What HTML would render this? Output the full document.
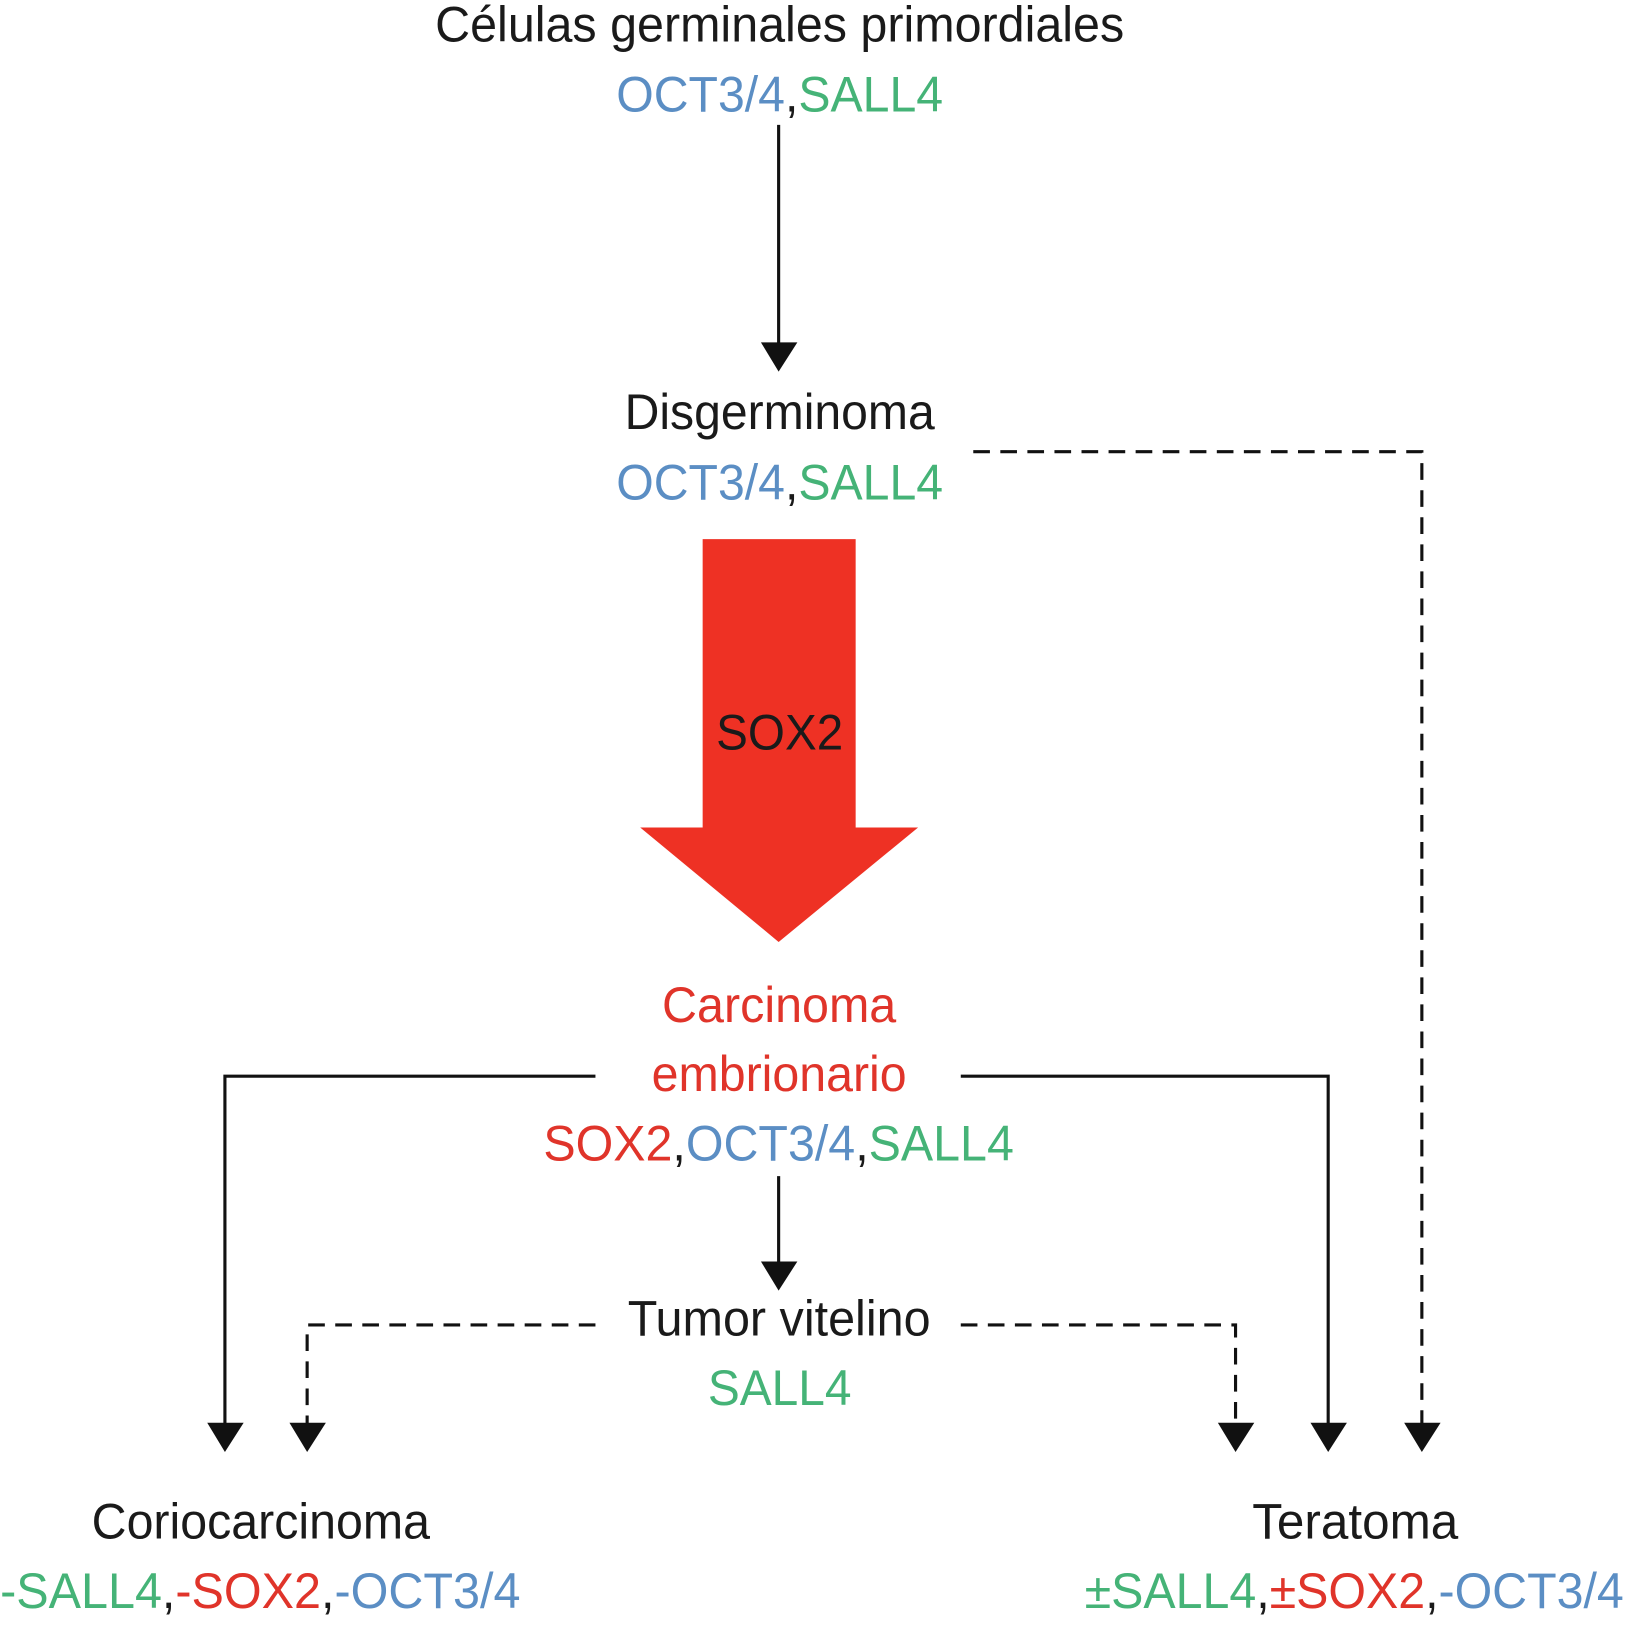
<!DOCTYPE html>
<html><head><meta charset="utf-8"><style>html,body{margin:0;padding:0;background:#fff}svg{display:block}</style></head>
<body>
<svg width="1627" height="1632" viewBox="0 0 1563 1568" xmlns="http://www.w3.org/2000/svg" font-family="Liberation Sans, sans-serif" font-size="48">
<g fill="#1a1a1a">
<text x="418" y="40" textLength="662" lengthAdjust="spacingAndGlyphs">Células germinales primordiales</text>
<text x="592" y="107" textLength="314" lengthAdjust="spacingAndGlyphs"><tspan fill="#5b8ec4">OCT3/4</tspan>,<tspan fill="#45b377">SALL4</tspan></text>
<text x="600" y="412" textLength="298" lengthAdjust="spacingAndGlyphs">Disgerminoma</text>
<text x="592" y="480" textLength="314" lengthAdjust="spacingAndGlyphs"><tspan fill="#5b8ec4">OCT3/4</tspan>,<tspan fill="#45b377">SALL4</tspan></text>
</g>
<g stroke="#111" stroke-width="3" fill="none">
<line x1="748" y1="120" x2="748" y2="332"/>
<polyline points="572,1034 216,1034 216,1370"/>
<polyline points="923,1034 1276,1034 1276,1370"/>
<line x1="748" y1="1130" x2="748" y2="1214"/>
</g>
<g stroke="#111" stroke-width="3" fill="none" stroke-dasharray="16,10">
<polyline points="935,434 1366,434 1366,1370"/>
<polyline points="572,1273 295,1273 295,1370"/>
<polyline points="923,1273 1187,1273 1187,1370"/>
</g>
<g fill="#111">
<polygon points="731,329 766,329 748,357"/>
<polygon points="731,1212 766,1212 748,1240"/>
<polygon points="199,1367 234,1367 216,1395"/>
<polygon points="278,1367 313,1367 295,1395"/>
<polygon points="1170,1367 1205,1367 1187,1395"/>
<polygon points="1259,1367 1294,1367 1276,1395"/>
<polygon points="1349,1367 1384,1367 1366,1395"/>
</g>
<polygon fill="#ee3124" points="675,518 822,518 822,795 882,795 748,905 615,795 675,795"/>
<text x="688" y="720" textLength="122" lengthAdjust="spacingAndGlyphs" fill="#1a1a1a">SOX2</text>
<g fill="#e0342a">
<text x="636" y="982" textLength="225" lengthAdjust="spacingAndGlyphs">Carcinoma</text>
<text x="626" y="1048" textLength="245" lengthAdjust="spacingAndGlyphs">embrionario</text>
</g>
<text x="522" y="1115" textLength="452" lengthAdjust="spacingAndGlyphs" fill="#1a1a1a"><tspan fill="#e0342a">SOX2</tspan>,<tspan fill="#5b8ec4">OCT3/4</tspan>,<tspan fill="#45b377">SALL4</tspan></text>
<text x="603" y="1283" textLength="291" lengthAdjust="spacingAndGlyphs" fill="#1a1a1a">Tumor vitelino</text>
<text x="680" y="1350" textLength="138" lengthAdjust="spacingAndGlyphs" fill="#45b377">SALL4</text>
<text x="88" y="1478" textLength="325" lengthAdjust="spacingAndGlyphs" fill="#1a1a1a">Coriocarcinoma</text>
<text x="0" y="1545" textLength="500" lengthAdjust="spacingAndGlyphs" fill="#1a1a1a"><tspan fill="#45b377">-SALL4</tspan>,<tspan fill="#e0342a">-SOX2</tspan>,<tspan fill="#5b8ec4">-OCT3/4</tspan></text>
<text x="1203" y="1478" textLength="198" lengthAdjust="spacingAndGlyphs" fill="#1a1a1a">Teratoma</text>
<text x="1042" y="1545" textLength="518" lengthAdjust="spacingAndGlyphs" fill="#1a1a1a"><tspan fill="#45b377">±SALL4</tspan>,<tspan fill="#e0342a">±SOX2</tspan>,<tspan fill="#5b8ec4">-OCT3/4</tspan></text>
</svg>
</body></html>
